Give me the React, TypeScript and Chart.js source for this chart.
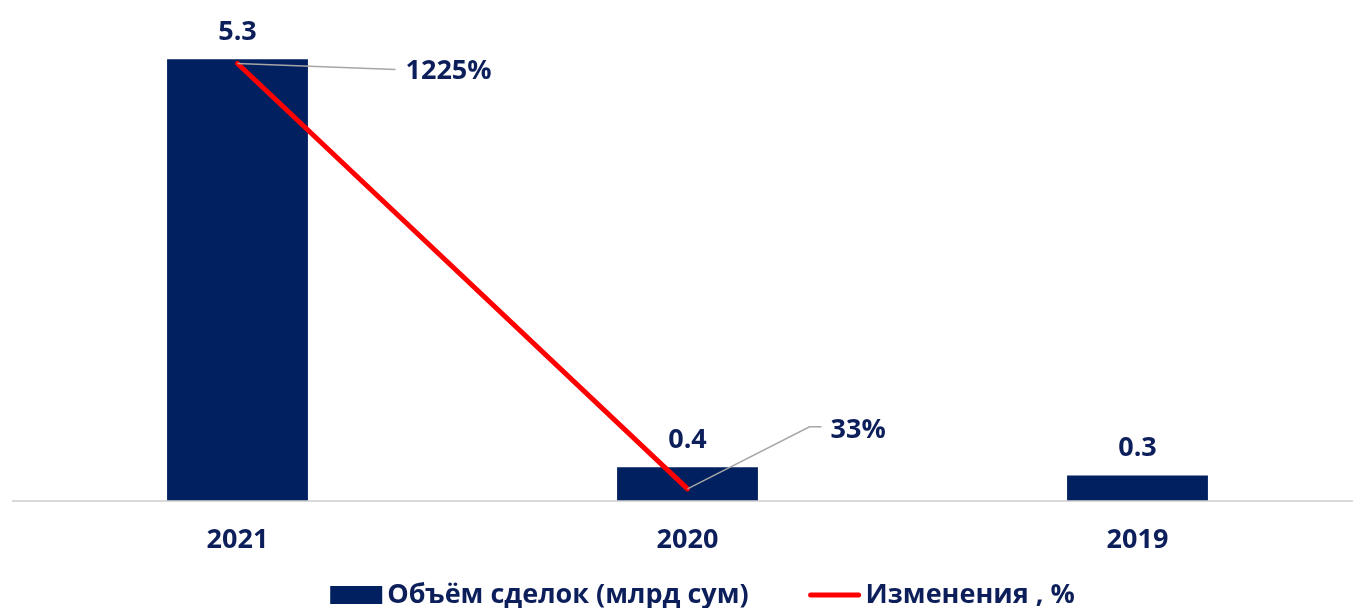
import React, { useEffect, useRef } from "react";
import { Chart, registerables } from "chart.js";

Chart.register(...registerables);

const categories = ["2021", "2020", "2019"];
const volumeValues = [5.3, 0.4, 0.3];
const volumeLabels = ["5.3", "0.4", "0.3"];
const changeValues: (number | null)[] = [1225, 33, null];
const changeLabels = ["1225%", "33%", ""];
const seriesNames = ["Объём сделок (млрд сум)", "Изменения , %"];

const NAVY = "#002060";
const TEXT = "#0C1F5B";
const RED = "#FF0000";
const FONT = "'Open Sans', 'Noto Sans', sans-serif";
const FS = 27;

const labelsPlugin = {
  id: "customLabels",
  afterDatasetsDraw(chart: any) {
    const ctx = chart.ctx;
    ctx.save();
    ctx.font = `bold ${FS}px ${FONT}`;
    ctx.fillStyle = TEXT;
    ctx.textBaseline = "middle";
    const barMeta = chart.getDatasetMeta(0);
    ctx.textAlign = "center";
    barMeta.data.forEach((el: any, i: number) => {
      ctx.fillText(volumeLabels[i], el.x, el.y - 27);
    });
    const lineMeta = chart.getDatasetMeta(1);
    const leaders = [
      { pts: [[158, 6]], tx: 168, ty: 7.5 },
      { pts: [[122, -62], [134, -62]], tx: 143, ty: -59 },
    ];
    lineMeta.data.forEach((el: any, i: number) => {
      if (changeValues[i] == null || !leaders[i]) return;
      const L = leaders[i];
      ctx.strokeStyle = "#A6A6A6";
      ctx.lineWidth = 1.5;
      ctx.beginPath();
      ctx.moveTo(el.x, el.y);
      L.pts.forEach((p) => ctx.lineTo(el.x + p[0], el.y + p[1]));
      ctx.stroke();
      ctx.textAlign = "left";
      ctx.fillText(changeLabels[i], el.x + L.tx, el.y + L.ty);
    });
    ctx.restore();
  },
  afterDraw(chart: any) {
    const ctx = chart.ctx;
    ctx.save();
    ctx.font = `bold ${FS}px ${FONT}`;
    ctx.textBaseline = "middle";
    ctx.textAlign = "left";
    const sw = 52;
    const gapText = 5;
    const gapItem = 60;
    const w0 = ctx.measureText(seriesNames[0]).width;
    const w1 = ctx.measureText(seriesNames[1]).width;
    const total = sw + gapText + w0 + gapItem + sw + gapText + w1;
    let x = 702.5 - total / 2;
    const y = 595;
    ctx.fillStyle = NAVY;
    ctx.fillRect(x, y - 9, sw, 18);
    x += sw + gapText;
    ctx.fillStyle = TEXT;
    ctx.fillText(seriesNames[0], x, y);
    x += w0 + gapItem;
    ctx.strokeStyle = RED;
    ctx.lineWidth = 5;
    ctx.lineCap = "round";
    ctx.beginPath();
    ctx.moveTo(x + 2, y);
    ctx.lineTo(x + sw - 2, y);
    ctx.stroke();
    x += sw + gapText;
    ctx.fillStyle = TEXT;
    ctx.fillText(seriesNames[1], x, y);
    ctx.restore();
  },
};

export default function App() {
  const ref = useRef<HTMLCanvasElement>(null);
  useEffect(() => {
    if (!ref.current) return;
    const chart = new Chart(ref.current, {
      type: "bar",
      data: {
        labels: categories,
        datasets: [
          {
            type: "bar",
            label: seriesNames[0],
            data: volumeValues,
            backgroundColor: NAVY,
            borderWidth: 0,
            categoryPercentage: 1,
            barPercentage: 0.313,
            yAxisID: "y",
            order: 1,
          } as any,
          {
            type: "line",
            label: seriesNames[1],
            data: changeValues,
            borderColor: RED,
            backgroundColor: RED,
            borderWidth: 5,
            borderCapStyle: "round",
            pointRadius: 0,
            pointHoverRadius: 0,
            spanGaps: false,
            yAxisID: "y1",
            order: 0,
          } as any,
        ],
      },
      options: {
        responsive: false,
        maintainAspectRatio: false,
        animation: false,
        layout: { padding: { left: 12.5, right: 17.5, top: 1, bottom: 27 } },
        plugins: {
          legend: { display: false },
          tooltip: { enabled: false },
        },
        scales: {
          x: {
            grid: { display: false, drawTicks: false },
            border: { display: true, color: "#D9D9D9", width: 2 },
            ticks: {
              padding: 24,
              color: TEXT,
              font: { family: FONT, size: FS, weight: "bold" },
            },
          },
          y: { display: false, min: 0, max: 6 },
          y1: { display: false, min: 0, max: 1400, position: "right" },
        },
      },
      plugins: [labelsPlugin],
    });
    return () => chart.destroy();
  }, []);
  return (
    <div
      style={{
        position: "fixed",
        left: 0,
        top: 0,
        width: 1353,
        height: 608,
        overflow: "hidden",
        background: "#fff",
      }}
    >
      <canvas ref={ref} width={1380} height={608} style={{ display: "block" }} />
    </div>
  );
}
